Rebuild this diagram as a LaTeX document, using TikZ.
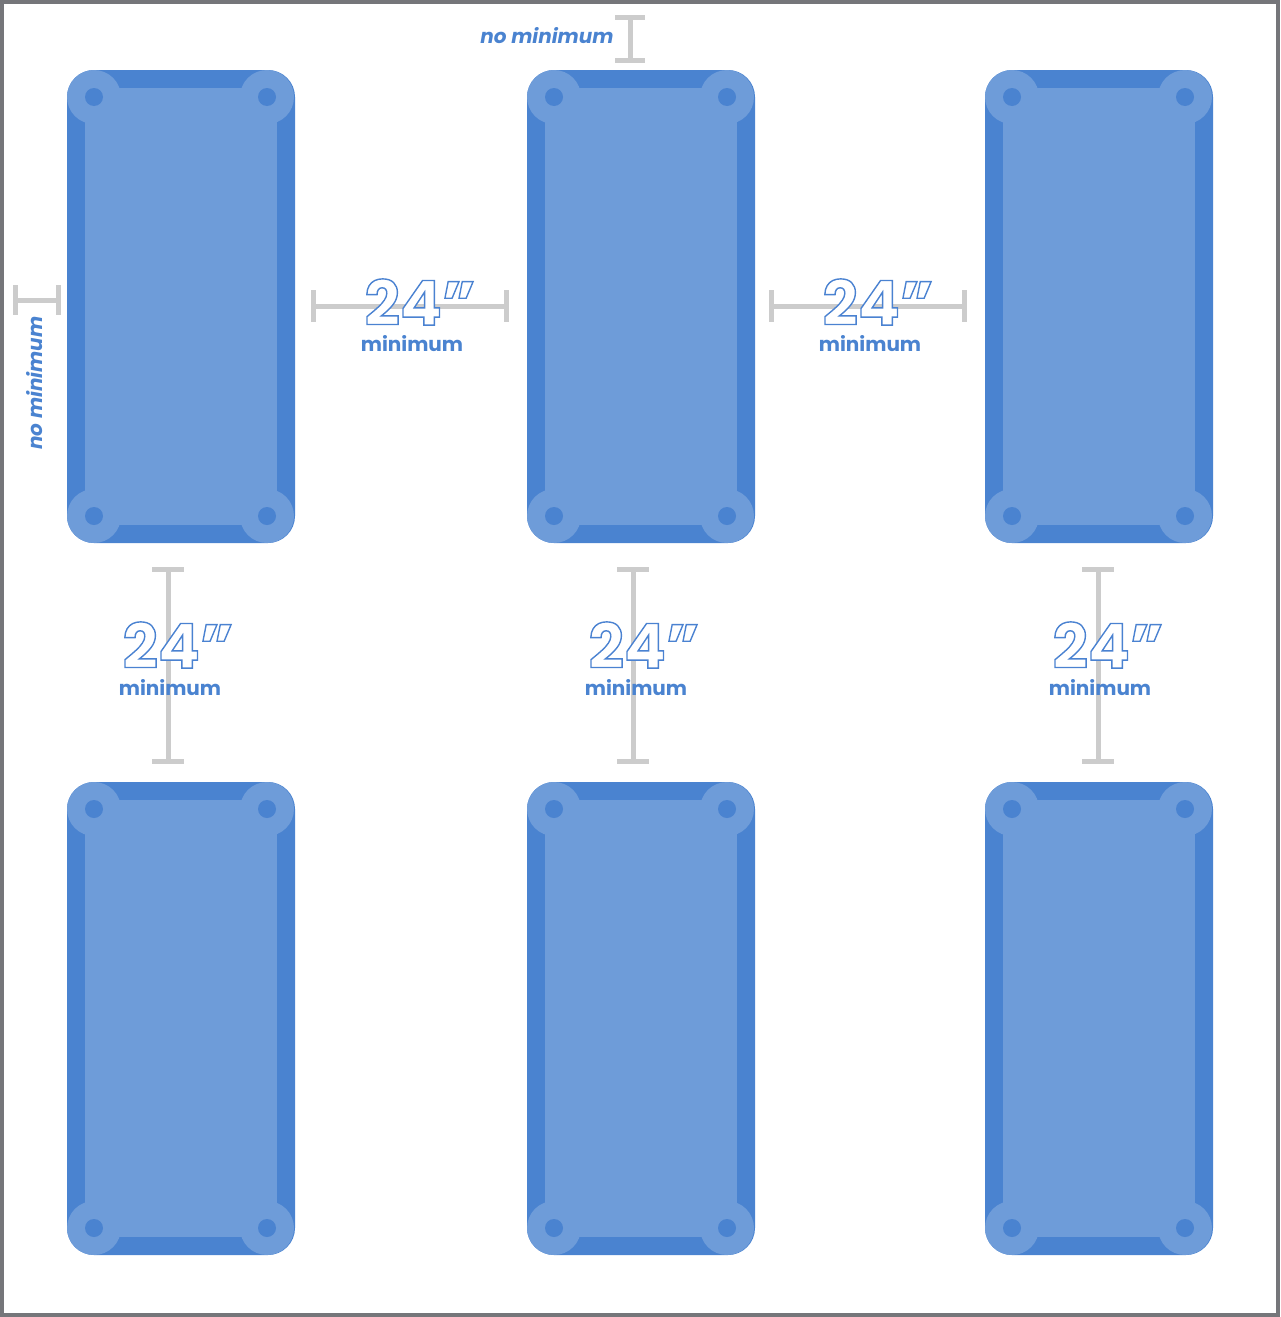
\documentclass[tikz,border=0pt]{standalone}
\usepackage{fontspec}
\setmainfont{Poppins}[BoldFont={* Bold},ItalicFont={* Italic},BoldItalicFont={* Bold Italic}]
\definecolor{railblue}{HTML}{4A83D0}
\definecolor{clothblue}{HTML}{6E9CD9}
\definecolor{bargray}{HTML}{CCCCCC}
\definecolor{framegray}{HTML}{75767A}
\newcommand{\outlined}[1]{\special{pdf:code q 2 Tr 1.4 w 0.29 0.51 0.82 RG}#1\special{pdf:code Q}}
\begin{document}
\begin{tikzpicture}[x=1pt,y=-1pt,
    tbl/.style={fill=railblue,rounded corners=27pt},
    bar/.style={draw=bargray,line width=5pt},
    big/.style={font=\fontsize{62}{62}\selectfont\bfseries,text=white,inner sep=0pt},
    note/.style={font=\fontsize{20}{20}\selectfont\bfseries,text=railblue,inner sep=0pt}]
  \useasboundingbox (0,0) rectangle (1280,1317);
  \draw[framegray,line width=4pt] (2,2) rectangle (1278,1315);

  % tables
  \foreach \x/\c in {67/a,527/b,985/c}{
    \foreach \y/\r in {70/1,782/2}{
      \fill[tbl] (\x,\y) rectangle ++(228,473);
      \fill[clothblue] (\x+18,\y+18) rectangle ++(192,437);
      \foreach \dx/\dy in {27/27,200/27,27/446,200/446}{
        \fill[clothblue] (\x+\dx,\y+\dy) circle (27pt);
        \fill[railblue] (\x+\dx,\y+\dy) circle (9pt);
      }
      \node[inner sep=0pt] (t\c\r) at (\x+114,\y+236) {};
    }
  }

  % spacing bars
  \draw[bar] (313,306) -- (506,306) (313,290) -- (313,322) (506,290) -- (506,322);
  \draw[bar] (771,306) -- (964,306) (771,290) -- (771,322) (964,290) -- (964,322);
  \foreach \x in {168,633,1098}{
    \draw[bar] (\x,569) -- (\x,761) (\x-16,569) -- (\x+16,569) (\x-16,761) -- (\x+16,761);
  }
  \draw[bar] (630,17) -- (630,60) (615,17) -- (645,17) (615,60) -- (645,60);
  \draw[bar] (15,300) -- (58,300) (15,285) -- (15,315) (58,285) -- (58,315);

  % labels
  \node[big] (ab) at (420,302) {\outlined{24”}};
  \node[note] (abm) at (412,344) {minimum};
  \node[big] (bc) at (878,302) {\outlined{24”}};
  \node[note] (bcm) at (870,344) {minimum};
  \foreach \x/\n in {178/a,644/b,1108/c}{
    \node[big] (v\n) at (\x,645) {\outlined{24”}};
    \node[note] (v\n m) at (\x-8,688) {minimum};
  }
  \node[note,font=\fontsize{20}{20}\selectfont\bfseries\itshape] (top) at (547,36) {no minimum};
  \node[note,font=\fontsize{20}{20}\selectfont\bfseries\itshape,rotate=90] (side) at (35,383) {no minimum};
\end{tikzpicture}
\end{document}
